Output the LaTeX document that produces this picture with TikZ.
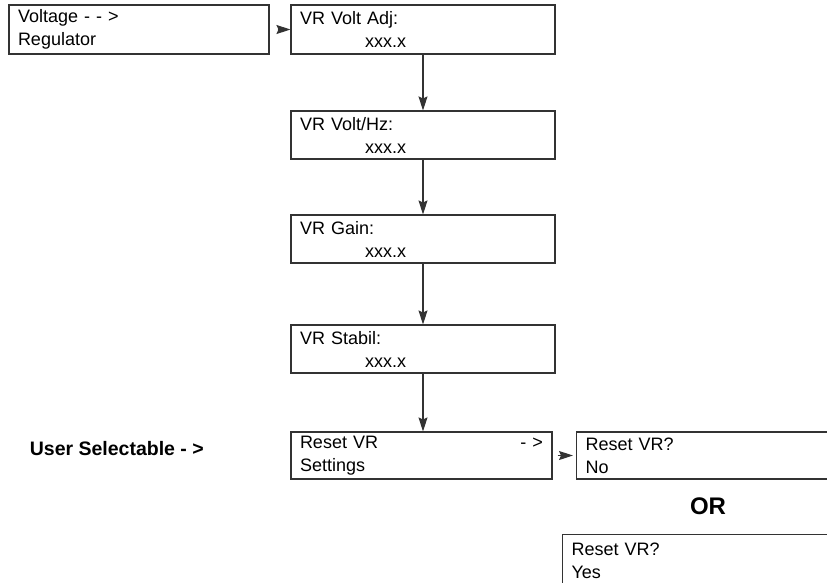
\documentclass[tikz,border=0pt]{standalone}
\usepackage{fontspec}
\setmainfont{Liberation Sans}
\usetikzlibrary{arrows.meta}
\definecolor{linegray}{HTML}{333333}
\tikzset{
  x=1pt, y=-1pt,
  box/.style={draw=linegray, line width=1.1pt, rectangle, inner xsep=9pt, inner ysep=0pt,
    minimum height=49pt, align=left, font=\fontsize{18}{23}\selectfont, anchor=center},
  varrow/.style={draw=linegray, line width=1.1pt, -{Stealth[length=14pt,width=9pt,inset=2pt]}},
  harrow/.style={draw=linegray, line width=1.1pt, -{Stealth[length=14pt,width=9pt,inset=2pt]}},
  note/.style={font=\bfseries\fontsize{19.5}{22}\selectfont, inner sep=0pt},
  ortext/.style={font=\bfseries\fontsize{24}{28}\selectfont, inner sep=0pt}
}
\newcommand{\indentx}{\hspace*{65pt}}
\begin{document}
\begin{tikzpicture}
\useasboundingbox (0,0) rectangle (827,582);
\clip (0,0) rectangle (827,582);
\node[box, text width=242pt] (b1) at (139,29.5) {Voltage - - >\\Regulator};
\node[box, text width=246pt] (b2) at (423,29.5) {VR Volt Adj:\\\indentx xxx.x};
\node[box, text width=246pt, minimum height=48pt] (b3) at (423,135) {VR Volt/Hz:\\\indentx xxx.x};
\node[box, text width=246pt, minimum height=48pt] (b4) at (423,239) {VR Gain:\\\indentx xxx.x};
\node[box, text width=246pt, minimum height=48pt] (b5) at (423,349) {VR Stabil:\\\indentx xxx.x};
\node[box, text width=243pt, minimum height=47pt] (b6) at (421.5,455.5) {Reset VR\hfill - >\hspace*{3pt}\\Settings};
\node[box, text width=262pt, minimum height=47pt, anchor=west] (b7) at (576,455.5) {Reset VR?\\No};
\node[box, text width=262pt, minimum height=52pt, anchor=north west] (b8) at (562,534) {Reset VR?\\Yes};
\node[ortext] (or) at (708,506) {OR};
\node[note, anchor=east] (us) at (204,449) {User Selectable - >};
\draw[harrow] ([xshift=8pt]b1.east) -- (b2.west);
\draw[varrow] (b2.south) -- (b3.north);
\draw[varrow] (b3.south) -- (b4.north);
\draw[varrow] (b4.south) -- (b5.north);
\draw[varrow] (b5.south) -- (b6.north -| b5.south);
\draw[harrow] ([xshift=5pt]b6.east) -- ([xshift=-3pt]b7.west);
\end{tikzpicture}
\end{document}
